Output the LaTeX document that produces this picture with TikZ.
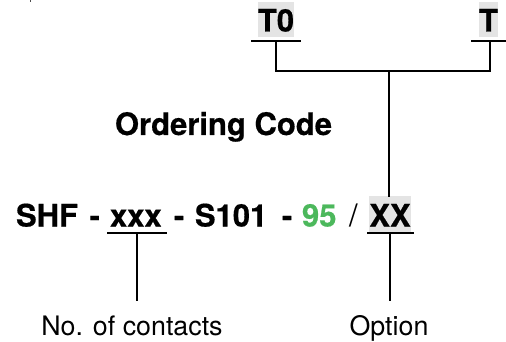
\documentclass[tikz,border=0pt]{standalone}
\usepackage{fontspec}
\setmainfont[BoldFeatures={FakeBold=0.5}]{TeX Gyre Heros}
\definecolor{codegreen}{RGB}{76,184,92}
\definecolor{optgray}{RGB}{228,228,228}
\tikzset{
  lbl/.style={inner sep=0pt,outer sep=0pt,anchor=base west,font=\fontsize{31}{31}\selectfont\bfseries},
  plain/.style={inner sep=0pt,outer sep=0pt,anchor=base,font=\fontsize{26.8}{27}\selectfont},
  optbox/.style={fill=optgray,inner sep=0pt,outer sep=0pt,anchor=center,font=\fontsize{31}{31}\selectfont\bfseries},
  ln/.style={line width=2pt,black},
}
\begin{document}
\begin{tikzpicture}[x=1pt,y=-1pt]
\useasboundingbox (0,0) rectangle (506,342);
\draw[line width=1.5pt,black!70] (30.5,0) -- (30.5,2);
% top options
\node[optbox,minimum width=35.5pt,text height=29.5pt,text depth=5.5pt] (t0) at (276,19.5) {T0};
\node[optbox,minimum width=19pt,text height=29.5pt,text depth=5.5pt] (t) at (488.5,19.5) {T};
\coordinate (t0L) at (251,41.5); \coordinate (t0R) at (300.5,41.5);
\coordinate (tL) at (471,41.5); \coordinate (tR) at (506,41.5);
\coordinate (t0B) at (276,41.5); \coordinate (tB) at (490,41.5);
\coordinate (join) at (389,71);
\draw[ln] (t0L) -- (t0R);
\draw[ln] (tL) -- (tR);
\draw[ln] (t0B) |- (join) -| (tB);
% title
\node[lbl] (title) at (115,135) {Ordering Code};
% code line
\node[lbl] (shf) at (16,226.5) {SHF\hspace{3pt} -};
\node[lbl] (xxx) at (110,226.5) {xxx};
\node[lbl] (s101) at (174,226.5) {-\hspace{2pt} S101\hspace{6pt} -};
\node[lbl,text=codegreen] (nn) at (302,226.5) {95};
\node[lbl,font=\fontsize{31}{31}\selectfont] (slash) at (349,226.5) {/};
\node[optbox,minimum width=42pt,text height=30.5pt,text depth=6.5pt] (xx) at (390,214.5) {XX};
\coordinate (xxTop) at (389,197);
\draw[ln] (join) -- (xxTop);
\coordinate (xxL) at (367,233); \coordinate (xxR) at (414,233);
\coordinate (xxB) at (390,233);
\coordinate (nL) at (107,233); \coordinate (nR) at (167,233);
\coordinate (nB) at (137,233);
\draw[ln] (xxL) -- (xxR);
\draw[ln] (nL) -- (nR);
% labels
\node[plain] (contacts) at (132,335) {No. of contacts};
\node[plain] (option) at (389,335) {Option};
\coordinate (cT) at (137,301); \coordinate (oT) at (390,301);
\draw[ln] (nB) -- (cT);
\draw[ln] (xxB) -- (oT);
\end{tikzpicture}
\end{document}
